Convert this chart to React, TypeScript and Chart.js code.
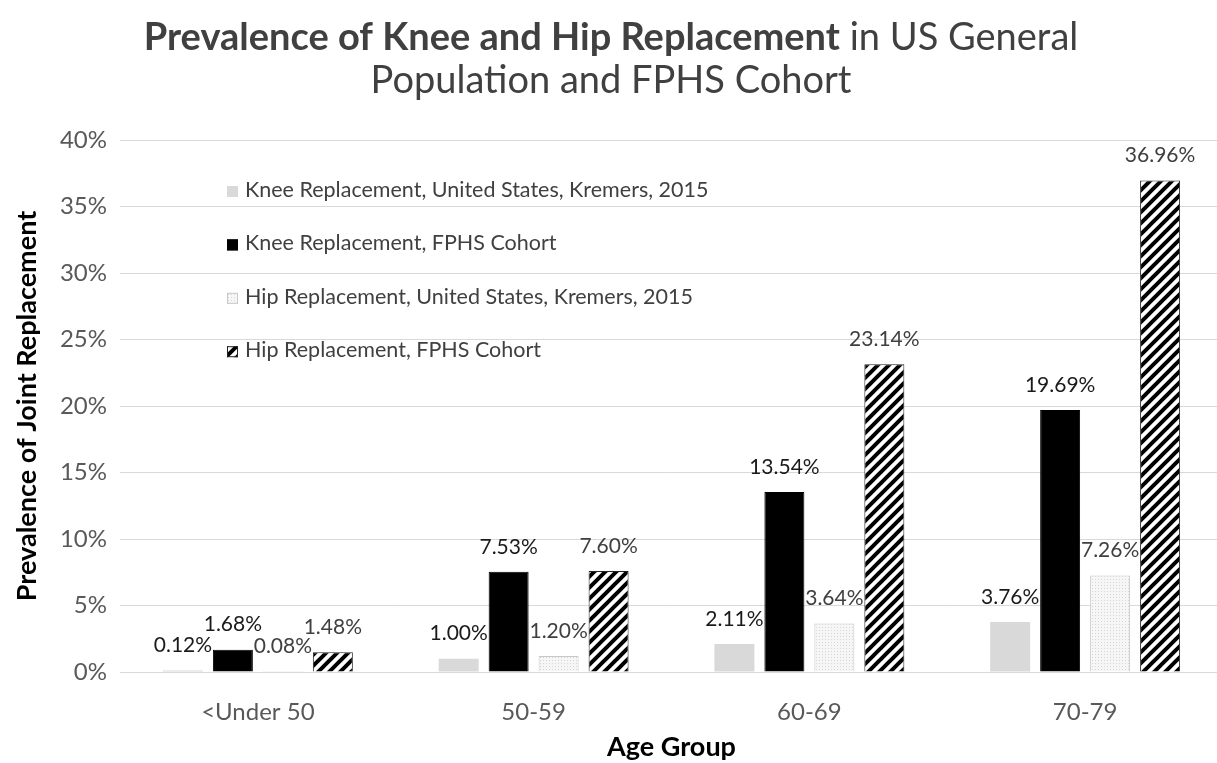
import React, { useEffect, useRef } from "react";
import { Chart, registerables } from "chart.js";

Chart.register(...registerables);

const categories = ["<Under 50", "50-59", "60-69", "70-79"];
const seriesNames = [
  "Knee Replacement, United States, Kremers, 2015",
  "Knee Replacement, FPHS Cohort",
  "Hip Replacement, United States, Kremers, 2015",
  "Hip Replacement, FPHS Cohort",
];
const kneeUS = [0.12, 1.0, 2.11, 3.76];
const kneeFPHS = [1.68, 7.53, 13.54, 19.69];
const hipUS = [0.08, 1.2, 3.64, 7.26];
const hipFPHS = [1.48, 7.6, 23.14, 36.96];
const yMax = 40;
const yStep = 5;
const titleBold = "Prevalence of Knee and Hip Replacement";
const titleRest = " in US General";
const titleLine2 = "Population and FPHS Cohort";
const xTitle = "Age Group";
const yTitle = "Prevalence of Joint Replacement";

const FONT = "Lato, 'Open Sans', sans-serif";

function makeDots(ctx: CanvasRenderingContext2D) {
  const t = document.createElement("canvas");
  t.width = 3;
  t.height = 3;
  const c = t.getContext("2d")!;
  c.fillStyle = "#f6f6f6";
  c.fillRect(0, 0, 3, 3);
  c.fillStyle = "#d6d6d6";
  c.fillRect(0, 0, 1, 1);
  return ctx.createPattern(t, "repeat")!;
}

function makeStripes(ctx: CanvasRenderingContext2D) {
  const s = 11;
  const t = document.createElement("canvas");
  t.width = s;
  t.height = s;
  const c = t.getContext("2d")!;
  c.fillStyle = "#ffffff";
  c.fillRect(0, 0, s, s);
  c.strokeStyle = "#000000";
  c.lineWidth = 4;
  c.beginPath();
  c.moveTo(-2, s + 2);
  c.lineTo(s + 2, -2);
  c.moveTo(-2, 2);
  c.lineTo(2, -2);
  c.moveTo(s - 2, s + 2);
  c.lineTo(s + 2, s - 2);
  c.stroke();
  return ctx.createPattern(t, "repeat")!;
}

const titlePlugin = {
  id: "twoWeightTitle",
  afterDraw(chart: any) {
    const ctx = chart.ctx as CanvasRenderingContext2D;
    ctx.save();
    ctx.fillStyle = "#404040";
    ctx.textBaseline = "middle";
    ctx.textAlign = "left";
    const size = 38;
    ctx.font = `bold ${size}px ${FONT}`;
    const wb = ctx.measureText(titleBold).width;
    ctx.font = `${size}px ${FONT}`;
    const wr = ctx.measureText(titleRest).width;
    const cx = 611;
    const x = cx - (wb + wr) / 2;
    ctx.font = `bold ${size}px ${FONT}`;
    ctx.fillText(titleBold, x, 38);
    ctx.font = `${size}px ${FONT}`;
    ctx.fillText(titleRest, x + wb, 38);
    ctx.textAlign = "center";
    ctx.fillText(titleLine2, cx, 81);
    ctx.restore();
  },
};

const labelPlugin = {
  id: "barValueLabels",
  afterDatasetsDraw(chart: any) {
    const ctx = chart.ctx as CanvasRenderingContext2D;
    ctx.save();
    ctx.textAlign = "center";
    ctx.textBaseline = "middle";
    ctx.font = `21px ${FONT}`;
    chart.data.datasets.forEach((ds: any, di: number) => {
      const meta = chart.getDatasetMeta(di);
      ctx.fillStyle = di < 2 ? "#1a1a1a" : "#404040";
      meta.data.forEach((bar: any, i: number) => {
        const v = ds.data[i] as number;
        ctx.fillText(v.toFixed(2) + "%", bar.x, bar.y - 25);
      });
    });
    ctx.restore();
  },
};

const legendPlugin = {
  id: "insideLegend",
  afterDraw(chart: any) {
    const ctx = chart.ctx as CanvasRenderingContext2D;
    const area = chart.chartArea;
    ctx.save();
    ctx.font = `21.5px ${FONT}`;
    ctx.textBaseline = "middle";
    ctx.textAlign = "left";
    chart.data.datasets.forEach((ds: any, di: number) => {
      const y = area.top + 50 + di * 53.4;
      const bx = area.left + 107;
      ctx.fillStyle = ds.backgroundColor;
      ctx.fillRect(bx, y - 4, 11, 11);
      if (ds.borderWidth) {
        ctx.strokeStyle = ds.borderColor;
        ctx.lineWidth = 1;
        ctx.strokeRect(bx + 0.5, y - 3.5, 10, 10);
      }
      ctx.fillStyle = "#404040";
      ctx.fillText(ds.label, bx + 18, y);
    });
    ctx.restore();
  },
};

export default function App() {
  const ref = useRef<HTMLCanvasElement | null>(null);
  useEffect(() => {
    document.body.style.margin = "0";
    const canvas = ref.current!;
    const ctx = canvas.getContext("2d")!;
    const dots = makeDots(ctx);
    const stripes = makeStripes(ctx);
    const chart = new Chart(canvas, {
      type: "bar",
      data: {
        labels: categories,
        datasets: [
          { label: seriesNames[0], data: kneeUS, backgroundColor: "#d9d9d9", borderColor: "#d9d9d9", borderWidth: 0 },
          { label: seriesNames[1], data: kneeFPHS, backgroundColor: "#000000", borderColor: "#000000", borderWidth: 1 },
          { label: seriesNames[2], data: hipUS, backgroundColor: dots, borderColor: "#c8c8c8", borderWidth: 1 },
          { label: seriesNames[3], data: hipFPHS, backgroundColor: stripes, borderColor: "#222222", borderWidth: 1 },
        ],
      },
      options: {
        responsive: false,
        animation: false,
        datasets: { bar: { categoryPercentage: 0.725, barPercentage: 0.8 } },
        layout: { padding: { top: 140, right: 3, bottom: 2, left: 14 } },
        plugins: {
          legend: { display: false },
          title: { display: false },
          tooltip: { enabled: false },
        },
        scales: {
          x: {
            grid: { display: false, drawTicks: false },
            border: { color: "#d9d9d9", width: 1 },
            ticks: { font: { family: FONT, size: 24, lineHeight: 1 }, color: "#595959", padding: 28 },
            title: {
              display: true,
              text: xTitle,
              font: { family: FONT, size: 27, weight: "bold", lineHeight: 1 },
              color: "#000000",
              padding: { top: 11, bottom: 0 },
            },
            afterFit: (scale: any) => {
              scale.height = 89;
            },
          },
          y: {
            min: 0,
            max: yMax,
            ticks: {
              stepSize: yStep,
              callback: (v: any) => `${v}%`,
              font: { family: FONT, size: 24 },
              color: "#595959",
              padding: 13,
            },
            grid: { color: "#d9d9d9", drawTicks: false },
            border: { display: false },
            title: {
              display: true,
              text: yTitle,
              font: { family: FONT, size: 27, weight: "bold", lineHeight: 1 },
              color: "#000000",
              padding: { top: 0, bottom: 11 },
            },
            afterFit: (scale: any) => {
              scale.width = 106;
            },
          },
        },
      },
      plugins: [titlePlugin, labelPlugin, legendPlugin],
    } as any);
    return () => chart.destroy();
  }, []);
  return (
    <div style={{ width: 1217, height: 763, overflow: "hidden" }}>
      <canvas ref={ref} width={1226} height={763} style={{ display: "block" }} />
    </div>
  );
}
